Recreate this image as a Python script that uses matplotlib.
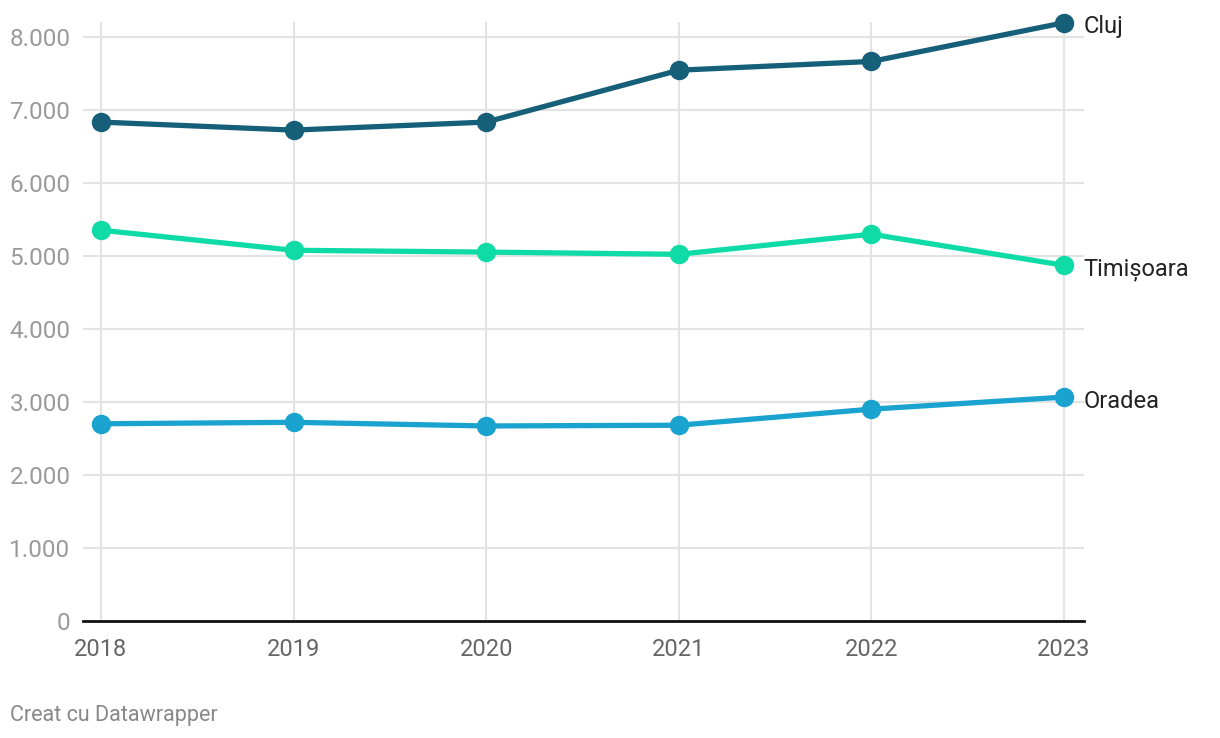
import matplotlib.pyplot as plt
from matplotlib.ticker import FuncFormatter

years = [2018, 2019, 2020, 2021, 2022, 2023]
cluj = [6830, 6720, 6830, 7540, 7660, 8190]
timisoara = [5350, 5075, 5050, 5020, 5295, 4870]
oradea = [2700, 2720, 2670, 2680, 2900, 3065]

series = [("Cluj", cluj, "#165f79"), ("Timișoara", timisoara, "#0fdba7"), ("Oradea", oradea, "#1aa3cf")]
yticks = [0, 1000, 2000, 3000, 4000, 5000, 6000, 7000, 8000]

plt.rcParams['font.family'] = ['Roboto', 'DejaVu Sans']

fig = plt.figure(figsize=(12.2, 7.38), dpi=100)
ax = fig.add_axes([83/1220, 1-621/738, (1084-83)/1220, (621-22)/738])

for name, vals, col in series:
    ax.plot(years, vals, color=col, lw=3.8, marker='o', ms=13, clip_on=False, zorder=3)
    ax.annotate(name, (years[-1], vals[-1]), xytext=(14, -3), textcoords='offset points',
                va='center', ha='left', fontsize=17, color='#222222')

ax.set_xlim(2017.907, 2023.104)
ax.set_ylim(0, 8200)
ax.set_yticks(yticks)
ax.set_xticks(years)
ax.yaxis.set_major_formatter(FuncFormatter(lambda v, p: f"{int(v):,}".replace(",", ".")))
ax.grid(True, color='#e3e3e3', lw=1.5)
ax.set_axisbelow(True)
for s in ['top', 'right', 'left']:
    ax.spines[s].set_visible(False)
ax.spines['bottom'].set_color('#111111')
ax.spines['bottom'].set_linewidth(2)
ax.spines['bottom'].set_zorder(4)
ax.tick_params(axis='y', length=0, pad=9, labelsize=17.5, labelcolor='#9a9a9a')
ax.tick_params(axis='x', length=0, pad=12, labelsize=17, labelcolor='#666666')

fig.text(10/1220, 1-715/738, "Creat cu Datawrapper", fontsize=15.5, color='#888888', va='center')

fig.savefig('out.png', dpi=100)
